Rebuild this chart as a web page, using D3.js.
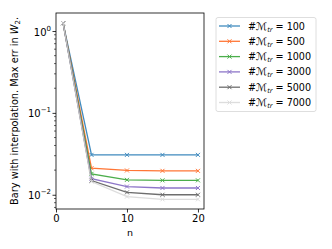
<!DOCTYPE html>
<html>
<head>
<meta charset="utf-8">
<script src="https://cdn.jsdelivr.net/npm/d3@7"></script>
<style>
body { margin: 0; background: #fff; }
text { font-family: "DejaVu Sans", sans-serif; }
</style>
</head>
<body>
<div class="chart"></div>
<script>
const nValues = [1, 5, 10, 15, 20];
const trainSizes = [100, 500, 1000, 3000, 5000, 7000];
const seriesColors = ["#1f77b4", "#ff5f14", "#2ca02c", "#7b5fc0", "#555555", "#d8d8d8"];
const err100 = [1.25, 0.0307, 0.0307, 0.0307, 0.0307];
const err500 = [1.25, 0.0211, 0.0198, 0.0196, 0.0196];
const err1000 = [1.25, 0.0180, 0.0152, 0.0150, 0.0150];
const err3000 = [1.25, 0.0157, 0.0126, 0.0121, 0.0121];
const err5000 = [1.25, 0.0149, 0.0107, 0.0100, 0.0100];
const err7000 = [1.25, 0.0145, 0.0095, 0.0088, 0.0088];
const xTicks = [0, 10, 20];
const yTicks = [1, 0.1, 0.01];
const yTickExp = ["0", "\u22121", "\u22122"];

const allErr = [err100, err500, err1000, err3000, err5000, err7000];

const svgwidth = 332, svgheight = 249;
const margin = ({top: 13, right: 128, bottom: 40, left: 56});
const width = svgwidth - margin.left - margin.right;
const height = svgheight - margin.top - margin.bottom;

const root = d3.select(".chart").append("svg")
    .attr("width", svgwidth)
    .attr("height", svgheight);
const svg = root.append("g")
    .attr("transform", `translate(${margin.left},${margin.top})`);

const xScale = d3.scaleLinear().domain([0, 20.85]).range([0, width]);
const yScale = d3.scaleLog().domain([0.0067, 1.66]).range([height, 0]);

// minor ticks on log axis
const minor = [];
[0.001, 0.01, 0.1, 1].forEach(dec => {
    for (let k = 2; k <= 9; k++) {
        const v = dec * k;
        if (v >= 0.0067 && v <= 1.66) minor.push(v);
    }
});
svg.append("g").selectAll("line")
    .data(minor).enter().append("line")
    .attr("x1", 0).attr("x2", -2)
    .attr("y1", d => yScale(d)).attr("y2", d => yScale(d))
    .attr("stroke", "#000").attr("stroke-width", 0.6);

const yAxis = svg.append("g")
    .call(d3.axisLeft(yScale).tickValues(yTicks).tickSize(3.5).tickFormat(""));
yAxis.select(".domain").remove();
yAxis.selectAll("line").attr("stroke-width", 0.8);
yAxis.selectAll(".tick").append("text")
    .attr("x", -5).attr("y", 4).attr("text-anchor", "end")
    .attr("fill", "#000").attr("font-size", 10)
    .each(function(d, i) {
        const t = d3.select(this);
        t.append("tspan").text("10");
        t.append("tspan").attr("dy", -5).attr("font-size", 7).text(yTickExp[i]);
    });

const xAxis = svg.append("g")
    .attr("transform", `translate(0,${height})`)
    .call(d3.axisBottom(xScale).tickValues(xTicks).tickSize(3.5).tickPadding(2));
xAxis.select(".domain").remove();
xAxis.selectAll("line").attr("stroke-width", 0.8);
xAxis.selectAll("text").attr("font-size", 10).attr("font-family", "DejaVu Sans");

svg.append("rect")
    .attr("width", width).attr("height", height)
    .attr("fill", "none").attr("stroke", "#000").attr("stroke-width", 0.8);

const line = d3.line()
    .x((d, i) => xScale(nValues[i]))
    .y(d => yScale(d));

function drawMarker(g, x, y, color) {
    const s = 2;
    g.append("path")
        .attr("d", `M${x - s},${y - s}L${x + s},${y + s}M${x - s},${y + s}L${x + s},${y - s}`)
        .attr("stroke", color).attr("stroke-width", 1);
}

allErr.forEach((series, k) => {
    const g = svg.append("g").attr("opacity", 0.85);
    g.append("path")
        .datum(series)
        .attr("d", line)
        .attr("fill", "none")
        .attr("stroke", seriesColors[k])
        .attr("stroke-width", 1.3);
    series.forEach((v, i) => drawMarker(g, xScale(nValues[i]), yScale(v), seriesColors[k]));
});

// axis labels
root.append("text")
    .attr("x", margin.left + width / 2).attr("y", 236)
    .attr("text-anchor", "middle").attr("font-size", 9.5)
    .text("n");

const yl = root.append("text")
    .attr("transform", `translate(18,${margin.top + height / 2}) rotate(-90)`)
    .attr("text-anchor", "middle").attr("font-size", 9.8);
yl.append("tspan").text("Bary with interpolation. Max err in ");
yl.append("tspan").attr("font-style", "italic").text("W");
yl.append("tspan").attr("font-size", 7).attr("dy", 2).text("2");
yl.append("tspan").attr("dy", -2).text(".");

// legend
const legend = root.append("g").attr("transform", "translate(216,17.5)");
legend.append("rect")
    .attr("width", 100).attr("height", 94).attr("rx", 2)
    .attr("fill", "#fff").attr("stroke", "#d6d6d6").attr("stroke-width", 0.8);
trainSizes.forEach((n, k) => {
    const y = 8.5 + k * 15.3;
    const g = legend.append("g").attr("opacity", 0.85);
    g.append("line")
        .attr("x1", 3).attr("x2", 24).attr("y1", y).attr("y2", y)
        .attr("stroke", seriesColors[k]).attr("stroke-width", 1.3);
    drawMarker(g, 13.5, y, seriesColors[k]);
    const t = legend.append("text")
        .attr("x", 32).attr("y", y + 3.5).attr("font-size", 9.6);
    t.append("tspan").text("#");
    t.append("tspan").attr("font-style", "italic").attr("font-size", 10.5).text("\u2133");
    t.append("tspan").attr("font-style", "italic").attr("font-size", 6.5).attr("dy", 2).text("tr");
    t.append("tspan").attr("dy", -2).text(" = " + n);
});
</script>
</body>
</html>
